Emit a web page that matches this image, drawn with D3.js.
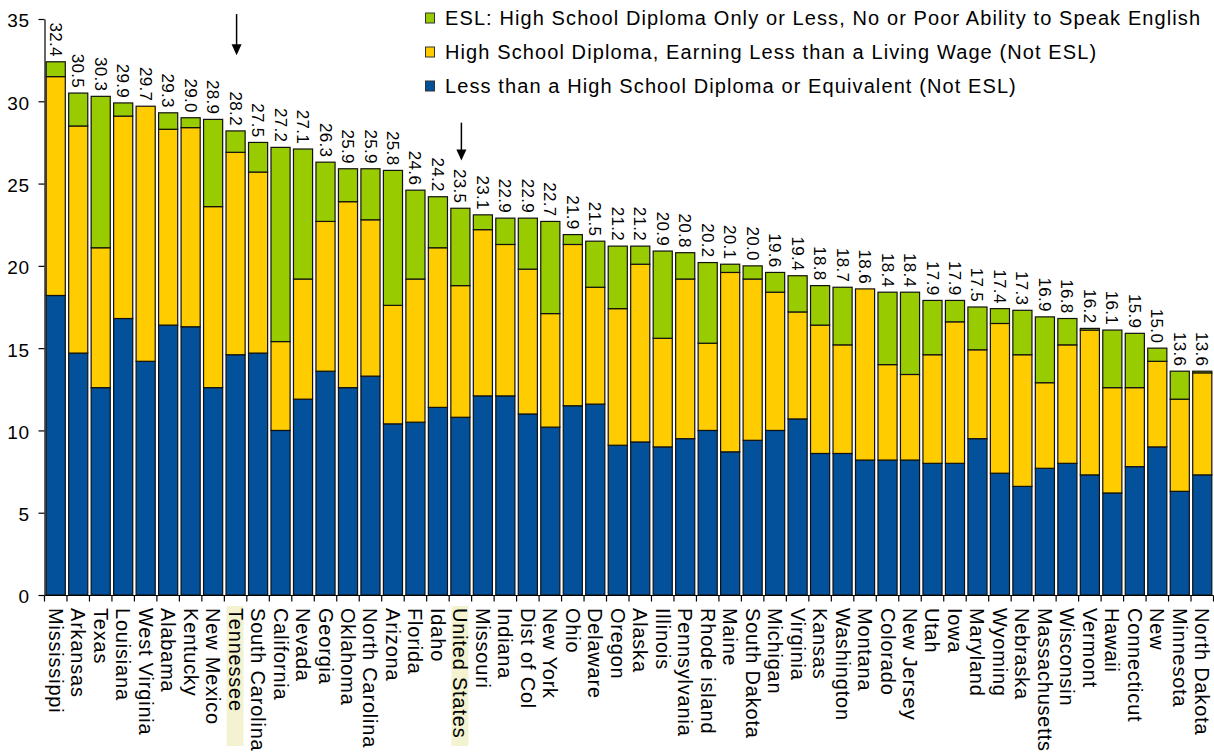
<!DOCTYPE html>
<html>
<head>
<meta charset="utf-8">
<script src="https://cdn.jsdelivr.net/npm/d3@7"></script>
<style>
  html, body { margin: 0; padding: 0; background: #fff; }
  svg { display: block; font-family: "Liberation Sans", Arial, Helvetica, sans-serif; }
</style>
</head>
<body>
<svg id="chart" width="1214" height="756"></svg>
<script>
// States ranked by share of adults with limited education / earnings
const states = [
  "Mississippi", "Arkansas", "Texas", "Louisiana", "West Virginia", "Alabama",
  "Kentucky", "New Mexico", "Tennessee", "South Carolina", "California", "Nevada",
  "Georgia", "Oklahoma", "North Carolina", "Arizona", "Florida", "Idaho",
  "United States", "Missouri", "Indiana", "Dist of Col", "New York", "Ohio",
  "Delaware", "Oregon", "Alaska", "Illinois", "Pennsylvania", "Rhode island",
  "Maine", "South Dakota", "Michigan", "Virginia", "Kansas", "Washington",
  "Montana", "Colorado", "New Jersey", "Utah", "Iowa", "Maryland",
  "Wyoming", "Nebraska", "Massachusetts", "Wisconsin", "Vermont", "Hawaii",
  "Connecticut", "New", "Minnesota", "North Dakota"
];

// Less than a high school diploma or equivalent (not ESL)
const lessThanHS = [
  18.2, 14.7, 12.6, 16.8, 14.2, 16.4, 16.3, 12.6, 14.6, 14.7, 10.0, 11.9,
  13.6, 12.6, 13.3, 10.4, 10.5, 11.4, 10.8, 12.1, 12.1, 11.0, 10.2, 11.5,
  11.6, 9.1, 9.3, 9.0, 9.5, 10.0, 8.7, 9.4, 10.0, 10.7, 8.6, 8.6,
  8.2, 8.2, 8.2, 8.0, 8.0, 9.5, 7.4, 6.6, 7.7, 8.0, 7.3, 6.2,
  7.8, 9.0, 6.3, 7.3
];

// High school diploma, earning less than a living wage (not ESL)
const hsLowWage = [
  13.3, 13.8, 8.5, 12.3, 15.5, 11.9, 12.1, 11.0, 12.3, 11.0, 5.4, 7.3,
  9.1, 11.3, 9.5, 7.2, 8.7, 9.7, 8.0, 10.1, 9.2, 8.8, 6.9, 9.8,
  7.1, 8.3, 10.8, 6.6, 9.7, 5.3, 10.9, 9.8, 8.4, 6.5, 7.8, 6.6,
  10.4, 5.8, 5.2, 6.6, 8.6, 5.4, 9.1, 8.0, 5.2, 7.2, 8.8, 6.4,
  4.8, 5.2, 5.6, 6.2
];

// ESL: high school diploma only or less, no or poor ability to speak English
const eslLimited = [
  0.9, 2.0, 9.2, 0.8, 0.0, 1.0, 0.6, 5.3, 1.3, 1.8, 11.8, 7.9,
  3.6, 2.0, 3.1, 8.2, 5.4, 3.1, 4.7, 0.9, 1.6, 3.1, 5.6, 0.6,
  2.8, 3.8, 1.1, 5.3, 1.6, 4.9, 0.5, 0.8, 1.2, 2.2, 2.4, 3.5,
  0.0, 4.4, 5.0, 3.3, 1.3, 2.6, 0.9, 2.7, 4.0, 1.6, 0.1, 3.5,
  3.3, 0.8, 1.7, 0.1
];

const yTicks = [0, 5, 10, 15, 20, 25, 30, 35];

const legendLabels = [
  "ESL: High School Diploma Only or Less, No or Poor Ability to Speak English",
  "High School Diploma, Earning Less than a Living Wage (Not ESL)",
  "Less than a High School Diploma or Equivalent (Not ESL)"
];

const highlighted = ["Tennessee", "United States"];

// Pointer arrows above selected bars (from / to in axis units)
const pointers = [
  { state: "Tennessee", from: 35.3, to: 32.8 },
  { state: "United States", from: 28.7, to: 26.4 }
];

// ---------------------------------------------------------------------------
const keys = ["lessThanHS", "hsLowWage", "eslLimited"];
const colors = { lessThanHS: "#02519a", hsLowWage: "#ffcc00", eslLimited: "#99cc00" };
const legendKeys = ["eslLimited", "hsLowWage", "lessThanHS"];

const rows = states.map((s, i) => ({
  state: s,
  lessThanHS: lessThanHS[i],
  hsLowWage: hsLowWage[i],
  eslLimited: eslLimited[i]
}));

const svg = d3.select("#chart");

const x = d3.scaleBand()
  .domain(states)
  .range([44.5, 1213.5])
  .paddingInner(0.15)
  .paddingOuter(0.075);

const y = d3.scaleLinear().domain([0, 35]).range([595, 19]);

const stacked = d3.stack().keys(keys)(rows);

// highlight boxes behind selected category labels
svg.append("g")
  .selectAll("rect")
  .data(highlighted)
  .join("rect")
  .attr("x", d => x(d) + x.bandwidth() / 2 - 9)
  .attr("y", 606)
  .attr("width", 17)
  .attr("height", 140)
  .attr("fill", "#f3f3d2");

// stacked bars
svg.append("g")
  .selectAll("g")
  .data(stacked)
  .join("g")
  .attr("fill", d => colors[d.key])
  .selectAll("rect")
  .data(d => d)
  .join("rect")
  .attr("x", d => x(d.data.state))
  .attr("width", x.bandwidth())
  .attr("y", d => y(d[1]))
  .attr("height", d => y(d[0]) - y(d[1]))
  .attr("stroke", "#111")
  .attr("stroke-width", 1.2);

// y axis
const yAxis = svg.append("g")
  .attr("transform", "translate(44.5,0)")
  .call(d3.axisLeft(y).tickValues(yTicks).tickSize(6).tickSizeOuter(0).tickPadding(9));
yAxis.select(".domain").attr("stroke", "#000").attr("stroke-width", 1.2);
yAxis.selectAll(".tick line").attr("stroke", "#000").attr("stroke-width", 1.2);
yAxis.selectAll(".tick text")
  .attr("fill", "#000")
  .style("font-size", "19px")
  .style("letter-spacing", "0.5px")
  .attr("dy", "0.42em");

// x axis line with ticks between categories
const step = x.step();
const x0 = x.range()[0];
svg.append("line")
  .attr("x1", x0).attr("x2", x.range()[1])
  .attr("y1", 595.5).attr("y2", 595.5)
  .attr("stroke", "#000").attr("stroke-width", 1.2);
svg.append("g")
  .selectAll("line")
  .data(d3.range(states.length + 1))
  .join("line")
  .attr("x1", i => x0 + i * step)
  .attr("x2", i => x0 + i * step)
  .attr("y1", 595.5).attr("y2", 601.5)
  .attr("stroke", "#000").attr("stroke-width", 1.2);

// category labels, rotated
svg.append("g")
  .selectAll("text")
  .data(states)
  .join("text")
  .attr("transform", d => `translate(${x(d) + x.bandwidth() / 2},608) rotate(90)`)
  .attr("dy", "0.35em")
  .attr("text-anchor", "start")
  .style("font-size", "20px")
  .style("letter-spacing", "0.8px")
  .attr("fill", "#000")
  .text(d => d);

// total value labels above bars
const fmt = d3.format(".1f");
svg.append("g")
  .selectAll("text")
  .data(rows)
  .join("text")
  .attr("transform", d => {
    const total = d.lessThanHS + d.hsLowWage + d.eslLimited;
    return `translate(${x(d.state) + x.bandwidth() / 2},${y(total) - 5}) rotate(90)`;
  })
  .attr("dy", "0.35em")
  .attr("text-anchor", "end")
  .style("font-size", "17px")
  .style("letter-spacing", "0.3px")
  .attr("fill", "#000")
  .text(d => fmt(d.lessThanHS + d.hsLowWage + d.eslLimited));

// pointer arrows
const arrowG = svg.append("g");
pointers.forEach(p => {
  const cx = x(p.state) + x.bandwidth() / 2 + 1;
  const yTop = y(p.from), yTip = y(p.to);
  arrowG.append("line")
    .attr("x1", cx).attr("x2", cx)
    .attr("y1", yTop).attr("y2", yTip - 10)
    .attr("stroke", "#000").attr("stroke-width", 1.5);
  arrowG.append("path")
    .attr("d", `M${cx - 5},${yTip - 11} L${cx + 5},${yTip - 11} L${cx},${yTip} Z`)
    .attr("fill", "#000");
});

// legend
const legend = svg.append("g").attr("transform", "translate(425,0)");
const legendRows = legend.selectAll("g")
  .data(legendKeys)
  .join("g")
  .attr("transform", (d, i) => `translate(0,${18 + i * 34})`);
legendRows.append("rect")
  .attr("x", 0.5).attr("y", -5)
  .attr("width", 9).attr("height", 10)
  .attr("fill", d => colors[d])
  .attr("stroke", "#333").attr("stroke-width", 1);
legendRows.append("text")
  .attr("x", 20)
  .attr("y", 0)
  .attr("dy", "0.36em")
  .style("font-size", "20px")
  .style("letter-spacing", "1.1px")
  .attr("fill", "#000")
  .text((d, i) => legendLabels[i]);
</script>
</body>
</html>
